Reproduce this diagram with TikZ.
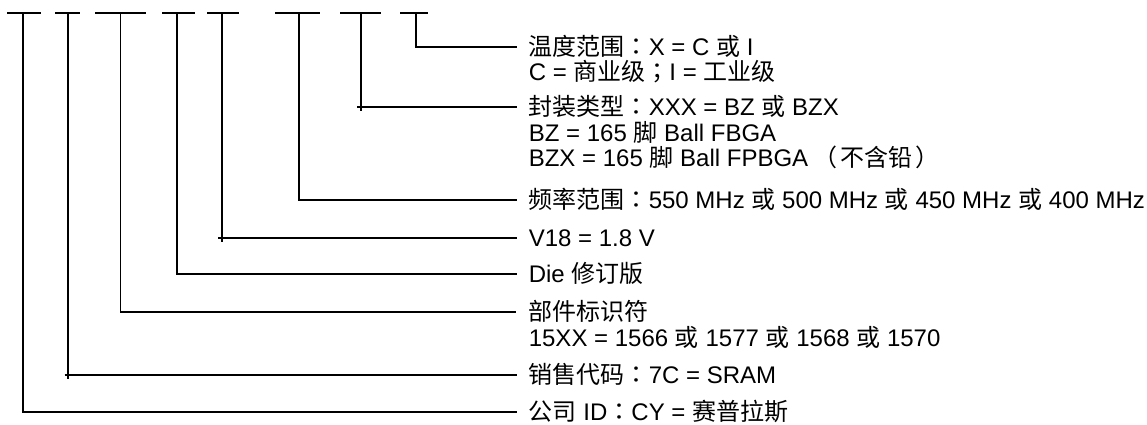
\documentclass[tikz,border=0pt]{standalone}
\usepackage{fontspec}
\setmainfont{Liberation Sans}
\newfontfamily\cjk{Noto Sans CJK SC}
\newfontfamily\cjkp{Noto Sans CJK TC}
\newcommand{\fcolon}{{\cjkp ：}}
\newcommand{\fsemi}{{\cjkp ；}}
\begin{document}
\begin{tikzpicture}[x=1bp,y=-1bp,line width=1.6bp,
  lbl/.style={anchor=base west,inner sep=0pt,font=\fontsize{24bp}{24bp}\selectfont},
  topbar/.style={line cap=butt},
  leader/.style={line join=miter}]
\useasboundingbox (0,0) rectangle (1147,424);
% top bars
\foreach \a/\b in {7/41,55/80,95/146,162/195,207/239,275/320,340/381,400/428}
  \draw[topbar] (\a,13) -- (\b,13);
% stem tops
\coordinate (s1) at (23,13);
\coordinate (s2) at (68,13);
\coordinate (s3) at (120.5,13);
\coordinate (s4) at (176.7,13);
\coordinate (s5) at (221.7,13);
\coordinate (s6) at (298.7,13);
\coordinate (s7) at (360.7,13);
\coordinate (s8) at (416,13);
% leader ends
\coordinate (e1) at (517,411.7);
\coordinate (e2) at (517,375);
\coordinate (e3) at (516,312);
\coordinate (e4) at (517,274);
\coordinate (e5) at (517,238);
\coordinate (e6) at (517,200);
\coordinate (e7) at (517,107);
\coordinate (e8) at (517,46.7);
% tick crossings
\coordinate (k2a) at (64.5,375);  \coordinate (k2b) at (68,379);
\coordinate (k5a) at (218.2,238); \coordinate (k5b) at (221.7,242);
\coordinate (k7a) at (357.2,107); \coordinate (k7b) at (360.7,111);
% labels
\node[lbl] (t8a) at (528,55.3) {{\cjk 温度范围}\fcolon X = C {\cjk 或} I};
\node[lbl] (t8b) at (528,80.8) {C = {\cjk 商业级}\fsemi I = {\cjk 工业级}};
\node[lbl] (t7a) at (528,115.6) {{\cjk 封装类型}\fcolon XXX = BZ {\cjk 或} BZX};
\node[lbl] (t7b) at (528,141.1) {BZ = 165 {\cjk 脚} Ball FBGA};
\node[lbl] (t7c) at (528,166.6) {BZX = 165 {\cjk 脚} Ball FPBGA\hspace{5bp}{\cjkp （}\hspace{3bp}{\cjk 不含铅}\hspace{3bp}{\cjkp ）}};
\node[lbl] (t6) at (528,208.6) {{\cjk 频率范围}\fcolon 550 MHz {\cjk 或} 500 MHz {\cjk 或} 450 MHz {\cjk 或} 400 MHz};
\node[lbl] (t5) at (528,246.6) {V18 = 1.8 V};
\node[lbl] (t4) at (528,282.6) {Die {\cjk 修订版}};
\node[lbl] (t3a) at (528,320.6) {{\cjk 部件标识符}};
\node[lbl] (t3b) at (528,346.1) {15XX = 1566 {\cjk 或} 1577 {\cjk 或} 1568 {\cjk 或} 1570};
\node[lbl] (t2) at (528,383.6) {{\cjk 销售代码}\fcolon 7C = SRAM};
\node[lbl] (t1) at (528,420.3) {{\cjk 公司} ID\fcolon CY = {\cjk 赛普拉斯}};
% connectors
\draw[leader] (s1) |- (e1);
\draw[leader] (s3) |- (e3);
\draw[leader] (s4) |- (e4);
\draw[leader] (s6) |- (e6);
\draw[leader] (s8) |- (e8);
\draw (s2) -- (k2b); \draw (k2a) -- (e2);
\draw (s5) -- (k5b); \draw (k5a) -- (e5);
\draw (s7) -- (k7b); \draw (k7a) -- (e7);
\end{tikzpicture}
\end{document}
